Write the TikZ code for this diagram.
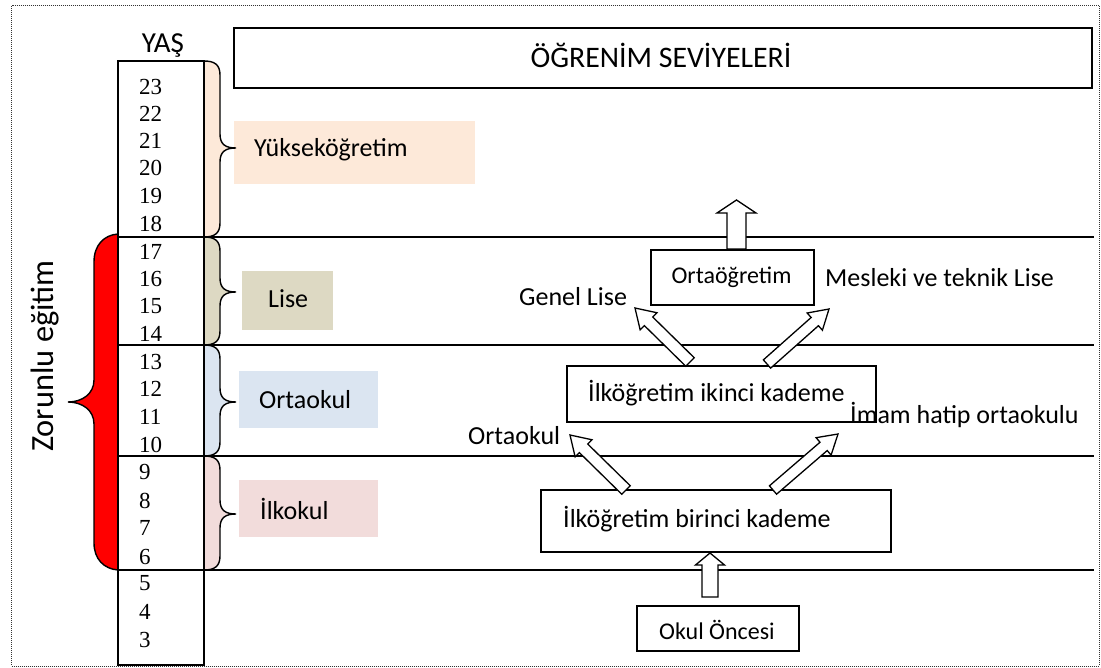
\documentclass[tikz,border=0pt]{standalone}
\usepackage{fontspec}
\setmainfont{Carlito}
\newfontfamily\tnr{Liberation Serif}
\usetikzlibrary{calc}
\definecolor{peach}{HTML}{FDE9D9}
\definecolor{olivefill}{HTML}{DDD9C3}
\definecolor{lblue}{HTML}{DBE5F1}
\definecolor{lpink}{HTML}{F2DCDB}
\definecolor{bred}{HTML}{FF0000}
\tikzset{
  border/.style={line width=1pt, dash pattern=on 1pt off 1pt, draw=black!80},
  box/.style={draw=black, line width=1.7pt, inner sep=0pt, outer sep=0pt},
  colbox/.style={draw=black, line width=1.4pt, inner sep=0pt, outer sep=0pt},
  fillbox/.style={inner sep=0pt, outer sep=0pt, anchor=north west},
  hline/.style={line width=1.5pt, draw=black},
  bracestyle/.style={line width=1.4pt, draw=black},
  barrow/.style={draw=black, fill=white, line width=1.3pt, line join=miter},
  lbl/.style={inner sep=0pt, anchor=base west, font=\fontsize{26}{31}\selectfont},
  smalllbl/.style={inner sep=0pt, anchor=base west, font=\fontsize{24}{29}\selectfont},
  ttl/.style={inner sep=0pt, anchor=base, font=\fontsize{29.8}{35}\selectfont},
  num/.style={inner sep=0pt, anchor=base west, font=\tnr\fontsize{23}{27}\selectfont},
}
\newcommand{\blockarrow}[5]{%
  \draw[barrow] ($(#1)!#3!90:(#2)$) -- ($(#2)!#5!(#1)!#3!90:(#2)$) -- ($(#2)!#5!(#1)!#4!90:(#2)$) -- (#2) -- ($(#2)!#5!(#1)!#4!-90:(#2)$) -- ($(#2)!#5!(#1)!#3!-90:(#2)$) -- ($(#1)!#3!-90:(#2)$) -- cycle;}
\newcommand{\myrbrace}[4]{%
  \fill[#4] (204,#1) .. controls (215,#1) and (220,#1+4) .. (220,#1+14) -- (220,#2-14) .. controls (220,#2-4) and (225,#2) .. (236,#2) .. controls (225,#2) and (220,#2+4) .. (220,#2+14) -- (220,#3-14) .. controls (220,#3-4) and (215,#3) .. (204,#3) -- cycle;
  \draw[bracestyle] (204,#1) .. controls (215,#1) and (220,#1+4) .. (220,#1+14) -- (220,#2-14) .. controls (220,#2-4) and (225,#2) .. (236,#2) .. controls (225,#2) and (220,#2+4) .. (220,#2+14) -- (220,#3-14) .. controls (220,#3-4) and (215,#3) .. (204,#3);}
\begin{document}
\begin{tikzpicture}[x=1pt,y=-1pt]
\useasboundingbox (0,0) rectangle (1101,668);
\draw[border] (11.5,6) rectangle (1099,666);

% coloured label boxes
\node[fillbox, fill=peach, minimum width=241, minimum height=63] (yukbox) at (234,121) {};
\node[fillbox, fill=olivefill, minimum width=91, minimum height=59] (lisebox) at (242,271) {};
\node[fillbox, fill=lblue, minimum width=139, minimum height=57] (ortabox) at (239,371) {};
\node[fillbox, fill=lpink, minimum width=139, minimum height=57] (ilkbox) at (239,480) {};

% braces
\myrbrace{61}{148}{237}{peach}
\myrbrace{237}{292}{345}{olivefill}
\myrbrace{345}{402}{456}{lblue}
\myrbrace{456}{514}{570}{lpink}

% red brace
\fill[bred] (118,234) .. controls (104,235) and (94,245) .. (94,262) -- (94,380) .. controls (94,394) and (82,402) .. (68,402) .. controls (82,402) and (94,410) .. (94,424) -- (94,543) .. controls (94,559) and (104,569) .. (118,570) -- cycle;
\draw[bracestyle] (118,234) .. controls (104,235) and (94,245) .. (94,262) -- (94,380) .. controls (94,394) and (82,402) .. (68,402) .. controls (82,402) and (94,410) .. (94,424) -- (94,543) .. controls (94,559) and (104,569) .. (118,570);

% horizontal level lines
\foreach \yy in {237,345,456,570} \draw[hline] (118,\yy) -- (1094,\yy);

% age column
\node[colbox, anchor=north west, minimum width=86, minimum height=604] (col) at (118,61) {};
\node[inner sep=0pt, anchor=base, font=\fontsize{29}{34}\selectfont] (yas) at (163,53) {YAŞ};
\foreach \n/\yy in {23/94.5,22/121.5,21/148.5,20/175.5,19/203.5,18/231.5,17/259.5,16/287,15/314,14/341.5,13/369.5,12/397,11/424.5,10/452.5,9/479.5,8/508,7/535.5,6/564,5/590.5,4/619,3/647.5}
  \node[num] (n\n) at (139,\yy) {\n};

% left labels
\node[lbl] (yuk) at (254,157) {Yükseköğretim};
\node[lbl] (lise) at (268,308) {Lise};
\node[lbl] (orta) at (259,409) {Ortaokul};
\node[lbl] (ilk) at (260,519) {İlkokul};
\node[inner sep=0pt, anchor=base west, rotate=90, font=\fontsize{32.4}{38}\selectfont] (zor) at (53,452) {Zorunlu eğitim};

% title
\node[box, minimum width=858, minimum height=60] (title) at (663,58) {};
\node[ttl] (titletxt) at (661,68) {ÖĞRENİM SEVİYELERİ};

% level boxes
\node[box, minimum width=163, minimum height=55] (ortaog) at (732.5,277.5) {};
\node[smalllbl, anchor=base] (ortaogtxt) at (731.5,284) {Ortaöğretim};
\node[box, minimum width=309, minimum height=56] (ikinci) at (721.5,394) {};
\node[lbl] (ikincitxt) at (588,402) {İlköğretim ikinci kademe};
\node[box, minimum width=350, minimum height=62] (birinci) at (716,521) {};
\node[lbl] (birincitxt) at (563,527) {İlköğretim birinci kademe};
\node[box, minimum width=162, minimum height=45] (okul) at (718,628.5) {};
\node[smalllbl] (okultxt) at (659,639) {Okul Öncesi};

% branch labels
\node[lbl] (genel) at (519,306) {Genel Lise};
\node[lbl] (meslek) at (825,287) {Mesleki ve teknik Lise};
\node[lbl] (imam) at (850,424) {İmam hatip ortaokulu};
\node[lbl] (ortalbl) at (468,444) {Ortaokul};

% block arrows
\coordinate (a1s) at (736.5,249);
\coordinate (a1t) at (736.5,200);
\coordinate (a2s) at (690,362);
\coordinate (a2t) at (635,308);
\coordinate (a3s) at (767,364);
\coordinate (a3t) at (829,309);
\coordinate (a4s) at (626,490);
\coordinate (a4t) at (570,435);
\coordinate (a5s) at (773,490);
\coordinate (a5t) at (838,434);
\coordinate (a6s) at (710,597);
\coordinate (a6t) at (710,553);
\blockarrow{a1s}{a1t}{9.5pt}{19.5pt}{13pt}
\blockarrow{a2s}{a2t}{6pt}{12pt}{19pt}
\blockarrow{a3s}{a3t}{5.5pt}{11.5pt}{19pt}
\blockarrow{a4s}{a4t}{6pt}{12pt}{19pt}
\blockarrow{a5s}{a5t}{5.5pt}{11.5pt}{19pt}
\blockarrow{a6s}{a6t}{8pt}{14.5pt}{12pt}
\end{tikzpicture}
\end{document}
